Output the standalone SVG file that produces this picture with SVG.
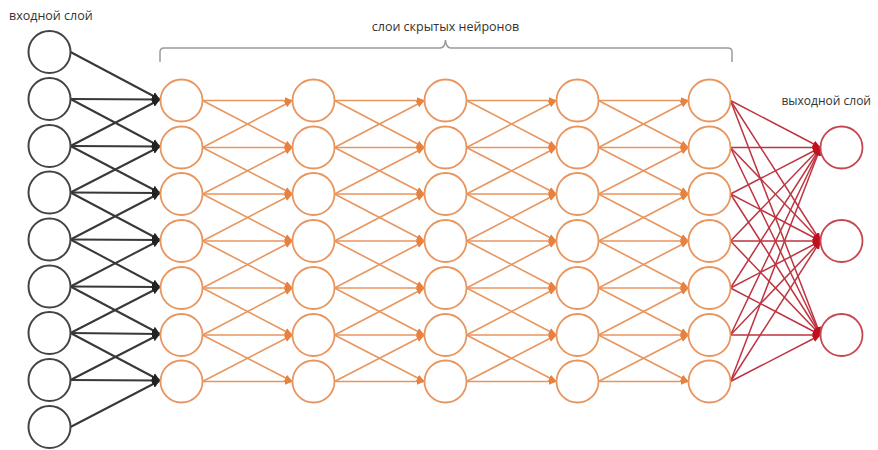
<svg xmlns="http://www.w3.org/2000/svg" width="878" height="450" viewBox="0 0 878 450">
<style>
text{font-family:"Open Sans","Noto Sans","Liberation Sans",sans-serif;fill:#333}
.in{fill:#fff;stroke:#444;stroke-width:2}
.hid{fill:#fff;stroke:#E8955E;stroke-width:1.8}
.out{fill:#fff;stroke:#C6474F;stroke-width:1.8}
.bk line{stroke:#383838;stroke-width:2;marker-end:url(#ab)}
.or line{stroke:#E8955E;stroke-width:1.6;marker-end:url(#ao)}
.rd line{stroke:#BE3340;stroke-width:1.5;marker-end:url(#ar)}
</style>
<defs>
<marker id="ab" markerUnits="userSpaceOnUse" markerWidth="9" markerHeight="9" refX="8" refY="4.5" orient="auto"><path d="M0,0.5 L8,4.5 L0,8.5 z" fill="#222"/></marker>
<marker id="ao" markerUnits="userSpaceOnUse" markerWidth="9" markerHeight="9" refX="8" refY="4.5" orient="auto"><path d="M0,1 L8,4.5 L0,8 z" fill="#E8803F"/></marker>
<marker id="ar" markerUnits="userSpaceOnUse" markerWidth="9" markerHeight="9" refX="8" refY="4.5" orient="auto"><path d="M0,1 L8,4.5 L0,8 z" fill="#C0101E"/></marker>
</defs>
<text x="9" y="20" font-size="12.5">входной слой</text>
<text x="445.5" y="31" font-size="12.5" text-anchor="middle">слои скрытых нейронов</text>
<text x="871" y="105" font-size="12" text-anchor="end">выходной слой</text>
<path id="bracket" d="M160,62 V52 Q160,48 164,48 H440 Q445,48 445.5,40 Q446,48 451,48 H728 Q732,48 732,52 V62" fill="none" stroke="#9a9a9a" stroke-width="1.5"/>
<g id="connectors">
<g class="bk">
<line x1="70.5" y1="52" x2="160" y2="99.5"/>
<line x1="70.5" y1="99" x2="160" y2="99.5"/>
<line x1="70.5" y1="99" x2="160" y2="146.5"/>
<line x1="70.5" y1="146" x2="160" y2="99.5"/>
<line x1="70.5" y1="146" x2="160" y2="146.5"/>
<line x1="70.5" y1="146" x2="160" y2="193"/>
<line x1="70.5" y1="192.5" x2="160" y2="146.5"/>
<line x1="70.5" y1="192.5" x2="160" y2="193"/>
<line x1="70.5" y1="192.5" x2="160" y2="240"/>
<line x1="70.5" y1="239.5" x2="160" y2="193"/>
<line x1="70.5" y1="239.5" x2="160" y2="240"/>
<line x1="70.5" y1="239.5" x2="160" y2="287"/>
<line x1="70.5" y1="286.5" x2="160" y2="240"/>
<line x1="70.5" y1="286.5" x2="160" y2="287"/>
<line x1="70.5" y1="286.5" x2="160" y2="334"/>
<line x1="70.5" y1="333" x2="160" y2="287"/>
<line x1="70.5" y1="333" x2="160" y2="334"/>
<line x1="70.5" y1="333" x2="160" y2="380.5"/>
<line x1="70.5" y1="380" x2="160" y2="334"/>
<line x1="70.5" y1="380" x2="160" y2="380.5"/>
<line x1="70.5" y1="427" x2="160" y2="380.5"/>
</g>
<g class="or">
<line x1="202.5" y1="100.5" x2="292.5" y2="100.5"/>
<line x1="202.5" y1="100.5" x2="292.5" y2="147.5"/>
<line x1="202.5" y1="147.5" x2="292.5" y2="100.5"/>
<line x1="202.5" y1="147.5" x2="292.5" y2="147.5"/>
<line x1="202.5" y1="147.5" x2="292.5" y2="194"/>
<line x1="202.5" y1="194" x2="292.5" y2="147.5"/>
<line x1="202.5" y1="194" x2="292.5" y2="194"/>
<line x1="202.5" y1="194" x2="292.5" y2="241"/>
<line x1="202.5" y1="241" x2="292.5" y2="194"/>
<line x1="202.5" y1="241" x2="292.5" y2="241"/>
<line x1="202.5" y1="241" x2="292.5" y2="288"/>
<line x1="202.5" y1="288" x2="292.5" y2="241"/>
<line x1="202.5" y1="288" x2="292.5" y2="288"/>
<line x1="202.5" y1="288" x2="292.5" y2="335"/>
<line x1="202.5" y1="335" x2="292.5" y2="288"/>
<line x1="202.5" y1="335" x2="292.5" y2="335"/>
<line x1="202.5" y1="335" x2="292.5" y2="381.5"/>
<line x1="202.5" y1="381.5" x2="292.5" y2="335"/>
<line x1="202.5" y1="381.5" x2="292.5" y2="381.5"/>

<line x1="334.5" y1="100.5" x2="424.5" y2="100.5"/>
<line x1="334.5" y1="100.5" x2="424.5" y2="147.5"/>
<line x1="334.5" y1="147.5" x2="424.5" y2="100.5"/>
<line x1="334.5" y1="147.5" x2="424.5" y2="147.5"/>
<line x1="334.5" y1="147.5" x2="424.5" y2="194"/>
<line x1="334.5" y1="194" x2="424.5" y2="147.5"/>
<line x1="334.5" y1="194" x2="424.5" y2="194"/>
<line x1="334.5" y1="194" x2="424.5" y2="241"/>
<line x1="334.5" y1="241" x2="424.5" y2="194"/>
<line x1="334.5" y1="241" x2="424.5" y2="241"/>
<line x1="334.5" y1="241" x2="424.5" y2="288"/>
<line x1="334.5" y1="288" x2="424.5" y2="241"/>
<line x1="334.5" y1="288" x2="424.5" y2="288"/>
<line x1="334.5" y1="288" x2="424.5" y2="335"/>
<line x1="334.5" y1="335" x2="424.5" y2="288"/>
<line x1="334.5" y1="335" x2="424.5" y2="335"/>
<line x1="334.5" y1="335" x2="424.5" y2="381.5"/>
<line x1="334.5" y1="381.5" x2="424.5" y2="335"/>
<line x1="334.5" y1="381.5" x2="424.5" y2="381.5"/>

<line x1="466.5" y1="100.5" x2="556.5" y2="100.5"/>
<line x1="466.5" y1="100.5" x2="556.5" y2="147.5"/>
<line x1="466.5" y1="147.5" x2="556.5" y2="100.5"/>
<line x1="466.5" y1="147.5" x2="556.5" y2="147.5"/>
<line x1="466.5" y1="147.5" x2="556.5" y2="194"/>
<line x1="466.5" y1="194" x2="556.5" y2="147.5"/>
<line x1="466.5" y1="194" x2="556.5" y2="194"/>
<line x1="466.5" y1="194" x2="556.5" y2="241"/>
<line x1="466.5" y1="241" x2="556.5" y2="194"/>
<line x1="466.5" y1="241" x2="556.5" y2="241"/>
<line x1="466.5" y1="241" x2="556.5" y2="288"/>
<line x1="466.5" y1="288" x2="556.5" y2="241"/>
<line x1="466.5" y1="288" x2="556.5" y2="288"/>
<line x1="466.5" y1="288" x2="556.5" y2="335"/>
<line x1="466.5" y1="335" x2="556.5" y2="288"/>
<line x1="466.5" y1="335" x2="556.5" y2="335"/>
<line x1="466.5" y1="335" x2="556.5" y2="381.5"/>
<line x1="466.5" y1="381.5" x2="556.5" y2="335"/>
<line x1="466.5" y1="381.5" x2="556.5" y2="381.5"/>

<line x1="598.5" y1="100.5" x2="688.5" y2="100.5"/>
<line x1="598.5" y1="100.5" x2="688.5" y2="147.5"/>
<line x1="598.5" y1="147.5" x2="688.5" y2="100.5"/>
<line x1="598.5" y1="147.5" x2="688.5" y2="147.5"/>
<line x1="598.5" y1="147.5" x2="688.5" y2="194"/>
<line x1="598.5" y1="194" x2="688.5" y2="147.5"/>
<line x1="598.5" y1="194" x2="688.5" y2="194"/>
<line x1="598.5" y1="194" x2="688.5" y2="241"/>
<line x1="598.5" y1="241" x2="688.5" y2="194"/>
<line x1="598.5" y1="241" x2="688.5" y2="241"/>
<line x1="598.5" y1="241" x2="688.5" y2="288"/>
<line x1="598.5" y1="288" x2="688.5" y2="241"/>
<line x1="598.5" y1="288" x2="688.5" y2="288"/>
<line x1="598.5" y1="288" x2="688.5" y2="335"/>
<line x1="598.5" y1="335" x2="688.5" y2="288"/>
<line x1="598.5" y1="335" x2="688.5" y2="335"/>
<line x1="598.5" y1="335" x2="688.5" y2="381.5"/>
<line x1="598.5" y1="381.5" x2="688.5" y2="335"/>
<line x1="598.5" y1="381.5" x2="688.5" y2="381.5"/>
</g>
<g class="rd">
<line x1="730.5" y1="100.5" x2="820.5" y2="147.5"/>
<line x1="730.5" y1="100.5" x2="820.5" y2="241"/>
<line x1="730.5" y1="100.5" x2="820.5" y2="335"/>
<line x1="730.5" y1="147.5" x2="820.5" y2="147.5"/>
<line x1="730.5" y1="147.5" x2="820.5" y2="241"/>
<line x1="730.5" y1="147.5" x2="820.5" y2="335"/>
<line x1="730.5" y1="194" x2="820.5" y2="147.5"/>
<line x1="730.5" y1="194" x2="820.5" y2="241"/>
<line x1="730.5" y1="194" x2="820.5" y2="335"/>
<line x1="730.5" y1="241" x2="820.5" y2="147.5"/>
<line x1="730.5" y1="241" x2="820.5" y2="241"/>
<line x1="730.5" y1="241" x2="820.5" y2="335"/>
<line x1="730.5" y1="288" x2="820.5" y2="147.5"/>
<line x1="730.5" y1="288" x2="820.5" y2="241"/>
<line x1="730.5" y1="288" x2="820.5" y2="335"/>
<line x1="730.5" y1="335" x2="820.5" y2="147.5"/>
<line x1="730.5" y1="335" x2="820.5" y2="241"/>
<line x1="730.5" y1="335" x2="820.5" y2="335"/>
<line x1="730.5" y1="381.5" x2="820.5" y2="147.5"/>
<line x1="730.5" y1="381.5" x2="820.5" y2="241"/>
<line x1="730.5" y1="381.5" x2="820.5" y2="335"/>
</g>
</g>
<g id="input-layer">
<g id="in1"><circle class="in" cx="49.5" cy="52" r="21"/></g>
<g id="in2"><circle class="in" cx="49.5" cy="99" r="21"/></g>
<g id="in3"><circle class="in" cx="49.5" cy="146" r="21"/></g>
<g id="in4"><circle class="in" cx="49.5" cy="192.5" r="21"/></g>
<g id="in5"><circle class="in" cx="49.5" cy="239.5" r="21"/></g>
<g id="in6"><circle class="in" cx="49.5" cy="286.5" r="21"/></g>
<g id="in7"><circle class="in" cx="49.5" cy="333" r="21"/></g>
<g id="in8"><circle class="in" cx="49.5" cy="380" r="21"/></g>
<g id="in9"><circle class="in" cx="49.5" cy="427" r="21"/></g>
</g>
<g id="hidden-1">
<g id="h1-1"><circle class="hid" cx="181.5" cy="100.5" r="21"/></g>
<g id="h1-2"><circle class="hid" cx="181.5" cy="147.5" r="21"/></g>
<g id="h1-3"><circle class="hid" cx="181.5" cy="194" r="21"/></g>
<g id="h1-4"><circle class="hid" cx="181.5" cy="241" r="21"/></g>
<g id="h1-5"><circle class="hid" cx="181.5" cy="288" r="21"/></g>
<g id="h1-6"><circle class="hid" cx="181.5" cy="335" r="21"/></g>
<g id="h1-7"><circle class="hid" cx="181.5" cy="381.5" r="21"/></g>
</g>
<g id="hidden-2">
<g id="h2-1"><circle class="hid" cx="313.5" cy="100.5" r="21"/></g>
<g id="h2-2"><circle class="hid" cx="313.5" cy="147.5" r="21"/></g>
<g id="h2-3"><circle class="hid" cx="313.5" cy="194" r="21"/></g>
<g id="h2-4"><circle class="hid" cx="313.5" cy="241" r="21"/></g>
<g id="h2-5"><circle class="hid" cx="313.5" cy="288" r="21"/></g>
<g id="h2-6"><circle class="hid" cx="313.5" cy="335" r="21"/></g>
<g id="h2-7"><circle class="hid" cx="313.5" cy="381.5" r="21"/></g>
</g>
<g id="hidden-3">
<g id="h3-1"><circle class="hid" cx="445.5" cy="100.5" r="21"/></g>
<g id="h3-2"><circle class="hid" cx="445.5" cy="147.5" r="21"/></g>
<g id="h3-3"><circle class="hid" cx="445.5" cy="194" r="21"/></g>
<g id="h3-4"><circle class="hid" cx="445.5" cy="241" r="21"/></g>
<g id="h3-5"><circle class="hid" cx="445.5" cy="288" r="21"/></g>
<g id="h3-6"><circle class="hid" cx="445.5" cy="335" r="21"/></g>
<g id="h3-7"><circle class="hid" cx="445.5" cy="381.5" r="21"/></g>
</g>
<g id="hidden-4">
<g id="h4-1"><circle class="hid" cx="577.5" cy="100.5" r="21"/></g>
<g id="h4-2"><circle class="hid" cx="577.5" cy="147.5" r="21"/></g>
<g id="h4-3"><circle class="hid" cx="577.5" cy="194" r="21"/></g>
<g id="h4-4"><circle class="hid" cx="577.5" cy="241" r="21"/></g>
<g id="h4-5"><circle class="hid" cx="577.5" cy="288" r="21"/></g>
<g id="h4-6"><circle class="hid" cx="577.5" cy="335" r="21"/></g>
<g id="h4-7"><circle class="hid" cx="577.5" cy="381.5" r="21"/></g>
</g>
<g id="hidden-5">
<g id="h5-1"><circle class="hid" cx="709.5" cy="100.5" r="21"/></g>
<g id="h5-2"><circle class="hid" cx="709.5" cy="147.5" r="21"/></g>
<g id="h5-3"><circle class="hid" cx="709.5" cy="194" r="21"/></g>
<g id="h5-4"><circle class="hid" cx="709.5" cy="241" r="21"/></g>
<g id="h5-5"><circle class="hid" cx="709.5" cy="288" r="21"/></g>
<g id="h5-6"><circle class="hid" cx="709.5" cy="335" r="21"/></g>
<g id="h5-7"><circle class="hid" cx="709.5" cy="381.5" r="21"/></g>
</g>
<g id="output-layer">
<g id="out1"><circle class="out" cx="841.5" cy="147.5" r="21"/></g>
<g id="out2"><circle class="out" cx="841.5" cy="241" r="21"/></g>
<g id="out3"><circle class="out" cx="841.5" cy="335" r="21"/></g>
</g>
</svg>
